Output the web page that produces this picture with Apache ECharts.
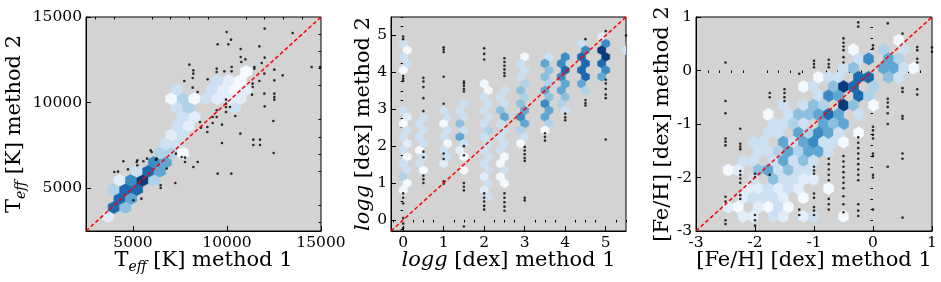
<!DOCTYPE html>
<html><head><meta charset="utf-8">
<script src="https://cdn.jsdelivr.net/npm/echarts@6/dist/echarts.min.js"></script>
<style>html,body{margin:0;padding:0;background:#fff}#c{width:941px;height:282px}</style>
</head><body><div id="c"></div>
<script>
// ---------- data ----------
// Panel 1: Teff
var teffRange = [2500, 15000];
var teffTicks = [5000, 10000, 15000];
var teffMinor = [3000, 4000, 6000, 7000, 8000, 9000, 11000, 12000, 13000, 14000];
var teffHexSize = [612, 1060];
// hex cells: [x center, y center, colour level 1..9]
var teffHex = [
  [3678,3340,2],
  [3984,3870,8],[4596,3870,5],
  [4290,4400,8],[4902,4400,6],
  [3984,4930,4],[4596,4930,8],[5208,4930,8],
  [4290,5460,2],[4902,5460,7],[5514,5460,9],[6126,5460,4],
  [5208,5990,3],[5820,5990,8],[6432,5990,6],
  [6126,6520,7],[6738,6520,6],
  [6432,7050,4],[7044,7050,4],[7656,7050,1],
  [6738,7580,3],[7350,7580,3],
  [7044,8110,2],[7656,8110,3],
  [7350,8640,3],[7962,8640,2],
  [7656,9170,3],[8268,9170,2],
  [7350,9700,3],[7962,9700,4],[10410,9700,3],
  [7044,10230,1],[7656,10230,4],[8268,10230,1],[8880,10230,3],[9492,10230,2],[10104,10230,2],[10716,10230,2],
  [7350,10760,3],[9186,10760,3],[9798,10760,2],[10410,10760,1],[11022,10760,2],
  [9492,11290,3],[10104,11290,2],[10716,11290,1],
  [11022,11820,1]
];
var teffDots = [
  [9982,14124],[12003,14319],[13493,14065],[14503,12080],[14950,12080],[10213,13676],[9503,13403],[10071,13403],
  [11720,13287],[10727,13131],[10727,12663],[10975,12527],[10762,12372],[12003,12625],[11844,12313],
  [11454,12080],[11454,11980],[9450,11982],[9450,11787],[10248,12080],[10248,11826],[7996,12216],
  [8209,11885],[8209,11690],[7730,11262],[8174,11437],[8971,11359],[9858,11826],[12517,11924],
  [12517,11300],[12960,11593],[11986,11690],[11720,11262],[11365,11106],[11365,10911],[11986,10522],
  [12517,10522],[12517,10327],[12517,10171],[11330,10464],[12003,9782],[8174,10872],[8440,10619],
  [9947,10171],[9947,9938],[9947,9743],[9947,9451],[10159,9743],[10443,9217],[9450,9549],[9450,9159],
  [9237,9159],[9237,8809],[9734,8711],[8954,8575],[8954,8283],[8617,8536],[8564,8867],[10709,8186],
  [12464,8925],[11400,7835],[11400,7524],[11755,7835],[11755,7524],[12482,7056],[9734,7640],[8440,6531],
  [7766,6784],[7766,6531],[8209,6239],[9503,5849],[10230,5849],[7252,5304],[6472,5168],[6472,5012],
  [5443,4389],[4486,6570],[4202,5966],[4734,6102],[5230,6628],[5230,6336],[5550,6570],[5745,6725],
  [5940,7212],[6223,6667],[7287,7017],[7589,6823],[4005,5946],[5197,6530],[6260,6728],[6792,6144],
  [5995,7114],[5020,4290]
];

// Panel 2: log g
var loggRange = [-0.3, 5.5];
var loggTicks = [0, 1, 2, 3, 4, 5];
var loggMinor = [-0.25,0.25,0.5,0.75,1.25,1.5,1.75,2.25,2.5,2.75,3.25,3.5,3.75,4.25,4.5,4.75,5.25,5.5];
var loggHexSize = [0.2, 0.361];
var loggHex = [
  [0,4.78,3],[0.1,4.6,1],[0,4.42,3],[0.1,4.24,3],[0,4.06,1],
  [0,2.97,3],[0.1,2.79,2],[0,2.61,1],[0.1,2.43,3],[0,2.25,3],[0.1,2.07,2],[0,1.89,3],[0.1,1.71,1],[0,1.53,3],[0.1,1.35,3],[0,1.17,4],[0.1,0.99,1],[0,0.81,1],
  [0.5,2.79,3],[0.4,2.61,3],[0.5,2.43,3],[0.4,2.25,3],[0.5,2.07,3],[0.4,1.89,1],[0.5,1.71,3],[0.4,1.53,3],[0.5,1.35,1],
  [1,2.97,3],[1.1,2.79,3],[1,2.61,1],[1.1,2.43,3],[1,2.25,3],[1.1,2.07,1],[1,1.89,3],[1.1,1.71,3],[1,1.53,2],
  [1.5,3.15,3],[1.4,2.97,3],[1.5,2.79,3],[1.4,2.61,5],[1.5,2.43,3],[1.4,2.25,6],[1.5,2.07,3],[1.4,1.89,2],[1.5,1.71,1],[1.5,1.35,1],
  [2,3.69,1],[2.1,3.51,1],[2,3.33,3],[2.1,3.15,3],[2,2.97,3],[2.1,2.79,3],[2,2.61,3],[2.1,2.43,4],[2,2.25,3],[2.1,2.07,3],[2,1.89,3],[2.1,1.71,3],[2,1.53,3],[2.1,1.35,3],[2,1.17,2],[2.1,0.99,3],[2,0.81,2],[2.1,0.63,3],
  [2.5,3.51,3],[2.4,3.33,3],[2.5,3.15,3],[2.4,2.97,5],[2.5,2.79,6],[2.4,2.61,3],[2.5,2.43,3],[2.4,2.25,3],[2.5,2.07,3],[2.4,1.89,3],[2.5,1.71,1],[2.4,1.53,1],[2.5,1.35,3],[2.4,1.17,1],[2.5,0.99,1],
  [3,4.42,1],[2.9,4.24,3],[3,4.06,3],[2.9,3.88,3],[3,3.69,4],[2.9,3.51,5],[3,3.33,4],[2.9,3.15,5],[3,2.97,6],[2.9,2.79,7],[3,2.61,6],[2.9,2.43,4],[3,2.25,3],[2.9,2.07,1],
  [3.6,4.42,3],[3.5,4.24,6],[3.6,4.06,5],[3.5,3.88,5],[3.6,3.69,4],[3.5,3.51,6],[3.6,3.33,5],[3.5,3.15,7],[3.6,2.97,6],[3.5,2.79,6],[3.6,2.61,4],[3.5,2.43,1],
  [4,4.42,7],[3.9,4.24,7],[4,4.06,8],[3.9,3.88,7],[4,3.69,6],[3.9,3.51,6],[4,3.33,5],[3.9,3.15,4],[4,2.97,3],
  [4.4,4.78,3],[4.5,4.6,7],[4.4,4.42,8],[4.5,4.24,8],[4.4,4.06,8],[4.5,3.88,8],[4.4,3.69,6],[4.5,3.51,4],
  [4.9,4.96,2],[5,4.78,7],[4.9,4.6,9],[5,4.42,9],[4.9,4.24,8],[5,4.06,7],[4.9,3.88,6],
  [5.5,4.6,3],[5.6,4.78,3]
];
var loggDots = [
  [0,4.97],[0,4.9],[0,3.9],[0,3.83],[0,3.77],[0,0.72],[0,0.6],[0,0.45],[0,0.05],[0,-0.1],[0,-0.22],
  [0.5,3.85],[0.5,3.75],[0.5,3.6],[0.5,3.3],[0.5,2.95],[0.5,1.85],[0.5,1.7],[0.5,1.2],[0.5,1.1],[0.5,1.0],
  [1,4.68],[1,4.62],[1,4.55],[1,3.88],[1,3.15],[1,1.8],[1,1.65],[1,1.05],[1,0.98],
  [1.5,3.75],[1.5,3.7],[1.5,3.63],[1.5,3.55],[1.5,3.48],[1.5,2.0],[1.5,1.75],[1.5,1.0],[1.5,0.9],[1.5,0.8],[1.5,-0.18],
  [2,4.65],[2,4.5],[2,4.35],[2,0.72],[2,0.6],[2,0.5],[2,0.38],[2,0.28],
  [2.5,4.38],[2.5,4.28],[2.5,4.18],[2.5,4.08],[2.5,3.98],[2.5,3.9],[2.5,0.72],[2.5,0.6],[2.5,0.48],[2.5,0.36],[2.5,0.25],
  [3,1.98],[3,1.88],[3,1.78],[3,1.68],[3,1.6],[3,0.6],[3,0.53],
  [3.5,2.35],[3.5,2.25],[3.5,2.15],
  [4,2.88],[4,2.78],[4,2.7],
  [4.5,3.25],[4.5,3.17],[4.5,3.1],[4.5,4.9],
  [5,5.12],[5,3.8],[5,3.7],[5,3.55],[5,3.4],[5,3.3],[5,2.18],
  [5.5,5.0]
];

// Panel 3: [Fe/H]
var fehRange = [-3, 1];
var fehTicks = [-3, -2, -1, 0, 1];
var fehMinor = [-2.8,-2.6,-2.4,-2.2,-1.8,-1.6,-1.4,-1.2,-0.8,-0.6,-0.4,-0.2,0.2,0.4,0.6,0.8];
var fehHexSize = [0.17, 0.3464];
var fehHex = [
  [0.435,0.564,1],
  [-0.33,0.391,1],[0.18,0.391,4],[0.52,0.391,3],
  [-0.245,0.218,3],[-0.075,0.218,7],[0.265,0.218,6],[0.435,0.218,4],
  [-0.5,0.044,3],[-0.33,0.044,5],[0.18,0.044,6],[0.35,0.044,6],[0.52,0.044,3],[0.69,0.044,1],
  [-0.925,-0.129,1],[-0.755,-0.129,3],[-0.585,-0.129,3],[-0.245,-0.129,8],[-0.075,-0.129,8],[0.265,-0.129,5],[0.435,-0.129,3],
  [-1.18,-0.302,1],[-1.01,-0.302,3],[-0.67,-0.302,5],[-0.5,-0.302,9],[-0.33,-0.302,8],[0.01,-0.302,4],
  [-0.925,-0.475,3],[-0.755,-0.475,7],[-0.585,-0.475,6],[-0.245,-0.475,8],[-0.075,-0.475,4],
  [-1.52,-0.649,3],[-1.18,-0.649,3],[-1.01,-0.649,5],[-0.84,-0.649,4],[-0.5,-0.649,9],[-0.33,-0.649,5],[0.01,-0.649,1],
  [-1.775,-0.822,1],[-1.435,-0.822,3],[-1.265,-0.822,5],[-1.095,-0.822,5],[-0.925,-0.822,6],[-0.755,-0.822,8],[-0.585,-0.822,6],[-0.245,-0.822,3],
  [-1.69,-0.995,3],[-1.52,-0.995,3],[-1.35,-0.995,4],[-1.18,-0.995,3],[-0.84,-0.995,6],[-0.67,-0.995,5],[-0.5,-0.995,6],
  [-1.775,-1.168,3],[-1.605,-1.168,3],[-1.265,-1.168,6],[-1.095,-1.168,4],[-0.925,-1.168,7],[-0.755,-1.168,6],[-0.585,-1.168,3],[-0.245,-1.168,1],
  [-2.03,-1.341,3],[-1.86,-1.341,3],[-1.52,-1.341,6],[-1.35,-1.341,3],[-1.18,-1.341,6],[-1.01,-1.341,7],[-0.84,-1.341,3],[-0.67,-1.341,3],[-0.5,-1.341,1],
  [-1.945,-1.515,3],[-1.775,-1.515,3],[-1.605,-1.515,4],[-1.435,-1.515,6],[-1.265,-1.515,4],[-1.095,-1.515,6],[-0.925,-1.515,6],[-0.755,-1.515,3],
  [-2.2,-1.688,3],[-2.03,-1.688,3],[-1.69,-1.688,3],[-1.52,-1.688,6],[-1.35,-1.688,3],[-1.18,-1.688,5],[-1.01,-1.688,3],
  [-2.455,-1.861,1],[-2.285,-1.861,2],[-1.945,-1.861,5],[-1.775,-1.861,6],[-1.605,-1.861,3],[-1.435,-1.861,5],[-1.265,-1.861,3],[-1.095,-1.861,3],
  [-2.03,-2.034,3],[-1.69,-2.034,5],[-1.52,-2.034,3],[-1.35,-2.034,3],[-1.18,-2.034,2],[-1.01,-2.034,2],
  [-2.115,-2.207,2],[-1.945,-2.207,2],[-1.775,-2.207,3],[-1.605,-2.207,2],[-1.435,-2.207,3],[-1.265,-2.207,2],[-0.755,-2.207,1],
  [-2.2,-2.38,2],[-2.03,-2.38,3],[-1.86,-2.38,3],[-1.69,-2.38,3],[-1.52,-2.38,2],[-1.18,-2.38,1],
  [-2.455,-2.554,2],[-2.285,-2.554,1],[-1.945,-2.554,2],[-1.775,-2.554,1],[-1.605,-2.554,3],[-1.435,-2.554,1],
  [-2.2,-2.727,2],[-2.03,-2.727,2],[-1.69,-2.727,3],[-1.52,-2.727,2],[-1.18,-2.727,2],[-1.01,-2.727,3],[-0.5,-2.727,1]
];
var fehDots = [
  [-2.5,0.15],[-2.5,-0.57],[-2.5,-0.8],[-2.5,-1.27],[-2.5,-1.33],[-2.5,-1.4],[-2.5,-2.36],[-2.5,-2.45],[-2.5,-2.8],[-2.5,-2.87],
  [-2.25,-1.09],[-2.25,-1.37],[-2.25,-1.42],[-2.25,-1.47],[-2.25,-1.88],[-2.25,-1.95],[-2.25,-2.02],[-2.25,-2.1],[-2.25,-2.33],[-2.25,-2.4],
  [-2,-1.93],[-2,-1.99],[-2,-2.7],[-2,-2.8],[-2,-2.9],
  [-1.75,-0.42],[-1.75,-0.5],[-1.75,-1.95],
  [-1.5,-0.35],[-1.5,-0.42],[-1.5,-0.5],[-1.5,-0.57],
  [-1.25,-0.06],[-1.25,-2.6],[-1.25,-2.7],
  [-1,0.18],[-1,0.12],[-1,0.06],[-1,-1.8],[-1,-1.87],[-1,-1.93],[-1,-2.3],[-1,-2.38],[-1,-2.55],[-1,-2.62],[-1,-2.7],
  [-0.75,0.2],[-0.75,0.12],[-0.75,0.06],[-0.75,-1.65],[-0.75,-1.75],[-0.75,-1.85],[-0.75,-1.95],[-0.75,-2.05],[-0.75,-2.4],[-0.75,-2.5],[-0.75,-2.6],
  [-0.5,0.6],[-0.5,0.52],[-0.5,0.45],[-0.5,0.38],[-0.5,0.25],[-0.5,0.15],[-0.5,-1.6],[-0.5,-1.7],[-0.5,-1.8],[-0.5,-1.9],[-0.5,-2.0],[-0.5,-2.1],[-0.5,-2.2],[-0.5,-2.35],[-0.5,-2.5],[-0.5,-2.65],
  [-0.25,0.9],[-0.25,0.82],[-0.25,-1.25],[-0.25,-1.35],[-0.25,-1.45],[-0.25,-1.55],[-0.25,-1.65],[-0.25,-1.75],[-0.25,-1.85],[-0.25,-1.95],[-0.25,-2.05],[-0.25,-2.5],[-0.25,-2.62],[-0.25,-2.72],
  [0,0.47],[0,0.41],[0,-1.05],[0,-1.12],[0,-1.2],[0,-1.27],[0,-1.55],[0,-1.6],[0,-1.95],[0,-2.0],[0,-2.6],
  [0.25,0.88],[0.25,-0.53],[0.25,-0.6],[0.25,-0.68],[0.25,-0.8],[0.25,-1.0],[0.25,-1.8],
  [0.5,0.69],[0.5,-0.33],[0.5,-0.4],[0.5,-0.85],[0.5,-0.9],[0.5,-1.55],[0.5,-1.65],[0.5,-2.75],
  [0.75,0.44],[0.75,0.38],[0.75,0.22],[0.75,0.15],[0.75,-0.35],[0.75,-0.45],
  [1,0.43],[1,0.35]
];

// ---------- styles ----------
var BLUES = [null,'#f4f9fe','#e1edf8','#cce0f1','#b0d2e8','#8cc0de','#5fa6d2','#3a8bc3','#1b69af','#083b7c'];
var SERIF = 'DejaVu Serif';
var GRIDS = [
  {left: 86, top: 17, width: 235, height: 214},
  {left: 391, top: 17, width: 235, height: 214},
  {left: 696, top: 17, width: 236, height: 214}
];
var nameRich = {
  n: {fontFamily: SERIF, fontSize: 21, color: '#000', lineHeight: 26},
  i: {fontFamily: SERIF, fontSize: 21, fontStyle: 'italic', color: '#000', lineHeight: 26},
  s: {fontFamily: SERIF, fontSize: 14, fontStyle: 'italic', color: '#000', lineHeight: 15, verticalAlign: 'bottom'}
};

function hexRender(size) {
  var sx = size[0], sy = size[1];
  return function (params, api) {
    var x = api.value(0), y = api.value(1), lv = api.value(2);
    var pts = [[x + sx/2, y - sy/6], [x + sx/2, y + sy/6], [x, y + sy/3],
               [x - sx/2, y + sy/6], [x - sx/2, y - sy/6], [x, y - sy/3]].map(function (p) { return api.coord(p); });
    var c = BLUES[lv];
    return {type: 'polygon', shape: {points: pts}, style: {fill: c, stroke: c, lineWidth: 0.5}};
  };
}

function plainNumber(v) { return String(v); }

function majorAxis(gi, range, ticks, name, gap, isY) {
  return {
    type: 'value', gridIndex: gi, min: range[0], max: range[1],
    axisLine: {show: true, onZero: false, lineStyle: {color: '#000', width: 1}},
    axisTick: {show: true, inside: true, length: 5, customValues: ticks, lineStyle: {color: '#000', width: 1}},
    axisLabel: {customValues: ticks, fontFamily: SERIF, fontSize: 15.5, color: '#000', margin: 4, formatter: plainNumber},
    splitLine: {show: false},
    name: name, nameLocation: 'middle', nameGap: gap, nameRotate: isY ? 90 : 0,
    nameMoveOverlap: false,
    nameTextStyle: {rich: nameRich}
  };
}
function minorAxis(gi, range, ticks) {
  return {
    type: 'value', gridIndex: gi, min: range[0], max: range[1],
    axisLine: {show: false}, axisLabel: {show: false}, splitLine: {show: false},
    axisTick: {show: true, inside: true, length: 2.5, customValues: ticks, lineStyle: {color: '#000', width: 1}}
  };
}

var panels = [
  {range: teffRange, ticks: teffTicks, minor: teffMinor, hex: teffHex, size: teffHexSize, dots: teffDots,
   xname: '{n|T}{s|eff}{n| [K] method 1}', yname: '{n|T}{s|eff}{n| [K] method 2}', xgap: 17, ygap: 58},
  {range: loggRange, ticks: loggTicks, minor: loggMinor, hex: loggHex, size: loggHexSize, dots: loggDots,
   xname: '{i|logg}{n| [dex] method 1}', yname: '{i|logg}{n| [dex] method 2}', xgap: 17, ygap: 14},
  {range: fehRange, ticks: fehTicks, minor: fehMinor, hex: fehHex, size: fehHexSize, dots: fehDots,
   xname: '{n|[Fe/H] [dex] method 1}', yname: '{n|[Fe/H] [dex] method 2}', xgap: 17, ygap: 20}
];

var grid = [], xAxis = [], yAxis = [], series = [];
panels.forEach(function (p, i) {
  grid.push(Object.assign({show: true, backgroundColor: '#d3d3d3', borderColor: '#000', borderWidth: 1}, GRIDS[i]));
  xAxis.push(majorAxis(i, p.range, p.ticks, p.xname, p.xgap, false));
  yAxis.push(majorAxis(i, p.range, p.ticks, p.yname, p.ygap, true));
});
panels.forEach(function (p, i) {
  xAxis.push(minorAxis(i, p.range, p.minor));
  yAxis.push(minorAxis(i, p.range, p.minor));
});
panels.forEach(function (p, i) {
  series.push({type: 'custom', xAxisIndex: i, yAxisIndex: i, clip: true, renderItem: hexRender(p.size),
    encode: {x: 0, y: 1}, data: p.hex, silent: true});
  series.push({type: 'scatter', xAxisIndex: i, yAxisIndex: i, symbol: 'circle', symbolSize: 2.6,
    itemStyle: {color: '#000'}, data: p.dots, silent: true, clip: true});
  series.push({type: 'line', xAxisIndex: i, yAxisIndex: i, showSymbol: false, symbol: 'none',
    data: [[p.range[0], p.range[0]], [p.range[1], p.range[1]]],
    lineStyle: {color: '#ff0000', width: 1.5, type: [4, 2.4]}, silent: true, clip: true, z: 5});
});

var chart = echarts.init(document.getElementById('c'), null, {renderer: 'canvas'});
chart.setOption({animation: false, backgroundColor: '#fff', grid: grid, xAxis: xAxis, yAxis: yAxis, series: series});
</script></body></html>
